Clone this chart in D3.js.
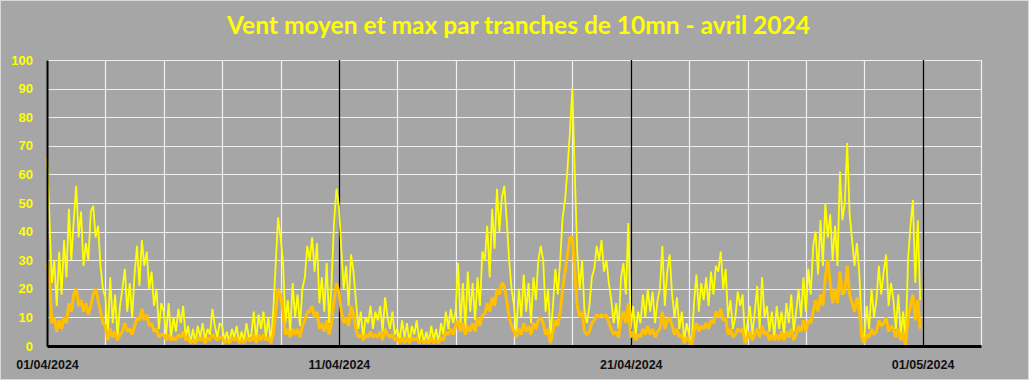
<!DOCTYPE html>
<html>
<head>
<meta charset="utf-8">
<script src="https://cdn.jsdelivr.net/npm/d3@7"></script>
<style>
  html, body { margin: 0; padding: 0; background: #a6a6a6; }
  svg { display: block; }
</style>
</head>
<body>
<svg id="chart"></svg>
<script>
const title = 'Vent moyen et max par tranches de 10mn - avril 2024'

// readings every 2 hours, starting 01/04/2024 00:00
const startDate = new Date(2024, 3, 1)
const endDate = new Date(2024, 4, 3)
const stepHours = 2

const yTicks = [0, 10, 20, 30, 40, 50, 60, 70, 80, 90, 100]
const xTickLabels = ['01/04/2024', '11/04/2024', '21/04/2024', '01/05/2024']

// vent max (rafales)
const maxWind = [
  66, 45, 22, 30, 14, 33, 18, 37, 24, 48, 30, 44, // 01/04
  56, 38, 47, 28, 36, 30, 47, 49, 38, 42, 28, 20,
  17, 4, 24, 8, 18, 3, 14, 20, 27, 12, 22, 10,
  25, 35, 21, 37, 28, 33, 20, 26, 14, 20, 6, 15,
  12, 4, 15, 3, 10, 5, 13, 8, 14, 3, 7, 1,
  6, 1, 7, 3, 8, 2, 6, 4, 13, 7, 3, 8,
  7, 2, 5, 1, 6, 3, 7, 1, 5, 2, 8, 3,
  4, 12, 2, 11, 6, 12, 3, 10, 1, 12, 28, 45,
  38, 30, 8, 16, 5, 22, 10, 18, 7, 20, 24, 35,
  30, 38, 26, 36, 15, 24, 12, 29, 8, 22, 43, 55,
  49, 34, 20, 28, 14, 32, 26, 16, 6, 12, 3, 10, // 11/04
  8, 14, 6, 12, 9, 14, 5, 17, 10, 6, 12, 4,
  6, 2, 9, 3, 8, 1, 7, 4, 9, 2, 6, 1,
  5, 1, 7, 2, 6, 1, 8, 4, 12, 6, 13, 8,
  12, 29, 8, 22, 6, 26, 12, 22, 9, 24, 14, 33,
  30, 42, 24, 48, 34, 55, 40, 52, 56, 44, 30, 20,
  14, 5, 20, 10, 25, 12, 22, 8, 24, 16, 30, 35,
  30, 12, 20, 3, 14, 27, 18, 30, 45, 51, 62, 75,
  90, 60, 33, 20, 30, 12, 8, 14, 24, 27, 35, 30,
  37, 26, 30, 22, 16, 8, 15, 6, 24, 29, 18, 43,
  6, 14, 4, 12, 8, 18, 10, 20, 12, 19, 8, 16, // 21/04
  20, 35, 14, 26, 32, 18, 10, 17, 6, 12, 2, 8,
  4, 0, 15, 25, 12, 22, 16, 24, 14, 26, 18, 28,
  26, 33, 20, 27, 10, 16, 6, 10, 19, 14, 18, 2,
  8, 14, 4, 12, 21, 6, 24, 10, 14, 5, 12, 3,
  14, 6, 12, 4, 15, 8, 18, 5, 12, 20, 10, 24,
  12, 27, 18, 35, 40, 25, 44, 28, 50, 38, 46, 30,
  42, 28, 61, 44, 50, 71, 46, 37, 28, 36, 25, 4,
  3, 14, 6, 20, 10, 16, 28, 18, 26, 32, 14, 22,
  16, 6, 18, 4, 12, 1, 30, 42, 51, 22, 44, 16,
]

// vent moyen
const meanWind = [
  29, 24, 8, 10, 5, 9, 6, 10, 8, 15, 12, 18, // 01/04
  20, 14, 16, 12, 15, 11, 14, 18, 20, 16, 12, 8,
  7, 2, 6, 3, 5, 2, 4, 5, 8, 5, 6, 4,
  7, 10, 9, 13, 9, 11, 7, 8, 5, 6, 3, 4,
  4, 2, 4, 2, 3, 2, 4, 3, 5, 2, 3, 1,
  2, 1, 3, 2, 3, 1, 3, 2, 4, 3, 2, 3,
  3, 1, 2, 1, 3, 2, 3, 1, 2, 1, 3, 2,
  2, 4, 1, 4, 2, 4, 2, 3, 1, 4, 12, 20,
  18, 12, 4, 6, 3, 6, 4, 6, 3, 7, 9, 12,
  12, 14, 10, 12, 6, 8, 5, 9, 4, 8, 16, 22,
  19, 12, 8, 10, 7, 14, 11, 6, 3, 4, 2, 4, // 11/04
  3, 5, 3, 4, 3, 5, 2, 6, 4, 3, 4, 2,
  3, 1, 3, 1, 3, 1, 3, 2, 3, 1, 2, 1,
  2, 1, 3, 1, 2, 1, 3, 2, 5, 4, 6, 4,
  7, 9, 5, 8, 4, 7, 5, 8, 5, 10, 7, 11,
  11, 15, 12, 17, 14, 20, 18, 22, 21, 16, 10, 7,
  5, 3, 6, 4, 8, 5, 7, 4, 8, 6, 9, 10,
  8, 4, 6, 1, 5, 9, 7, 12, 20, 26, 32, 38,
  38, 26, 14, 10, 12, 5, 4, 5, 8, 9, 11, 10,
  11, 10, 11, 8, 6, 4, 5, 3, 9, 12, 8, 15,
  3, 5, 2, 4, 3, 6, 4, 7, 4, 6, 3, 5, // 21/04
  6, 12, 6, 9, 10, 7, 4, 6, 3, 4, 1, 3,
  2, 0, 5, 8, 5, 7, 6, 8, 6, 9, 8, 12,
  10, 13, 9, 10, 4, 6, 3, 4, 6, 5, 6, 1,
  3, 5, 2, 4, 6, 3, 7, 4, 5, 2, 4, 2,
  4, 2, 5, 2, 5, 3, 6, 2, 4, 7, 5, 9,
  5, 9, 8, 12, 16, 12, 18, 14, 24, 30, 22, 15,
  20, 15, 26, 18, 19, 28, 18, 15, 12, 17, 12, 3,
  1, 4, 3, 6, 4, 5, 9, 7, 8, 10, 5, 7,
  6, 3, 6, 2, 5, 0, 10, 14, 18, 9, 16, 6,
]

const width = 1029
const height = 380
const margin = { top: 60, right: 48, bottom: 34, left: 47 }

const svg = d3.select('#chart').attr('width', width).attr('height', height)

// background + frame
svg
  .append('rect')
  .attr('x', 0.5)
  .attr('y', 0.5)
  .attr('width', width - 1)
  .attr('height', height - 1)
  .attr('fill', '#a6a6a6')
  .attr('stroke', '#d9d9d9')

const x = d3
  .scaleTime()
  .domain([startDate, endDate])
  .range([margin.left, width - margin.right])

const y = d3
  .scaleLinear()
  .domain([0, 100])
  .range([height - margin.bottom, margin.top])

const parseDay = d3.timeParse('%d/%m/%Y')
const formatDay = d3.timeFormat('%d/%m/%Y')
const labelDates = xTickLabels.map(parseDay)

// grid
const grid = svg.append('g').attr('id', 'grid')

grid
  .selectAll('line.h')
  .data(yTicks.filter((d) => d > 0))
  .join('line')
  .attr('class', 'h')
  .attr('x1', margin.left)
  .attr('x2', width - margin.right)
  .attr('y1', (d) => Math.round(y(d)) + 0.5)
  .attr('y2', (d) => Math.round(y(d)) + 0.5)
  .attr('stroke', '#f0f0f0')
  .attr('stroke-width', 1.2)

grid
  .selectAll('line.v')
  .data(d3.timeDay.every(2).range(d3.timeDay.offset(startDate, 2), d3.timeDay.offset(endDate, 1)))
  .join('line')
  .attr('class', 'v')
  .attr('x1', (d) => Math.round(x(d)) + 0.5)
  .attr('x2', (d) => Math.round(x(d)) + 0.5)
  .attr('y1', margin.top)
  .attr('y2', height - margin.bottom)
  .attr('stroke', '#f0f0f0')
  .attr('stroke-width', 1.2)

// 10-day separators
grid
  .selectAll('line.sep')
  .data(labelDates.slice(1))
  .join('line')
  .attr('class', 'sep')
  .attr('x1', (d) => Math.round(x(d)) + 0.5)
  .attr('x2', (d) => Math.round(x(d)) + 0.5)
  .attr('y1', margin.top)
  .attr('y2', height - margin.bottom)
  .attr('stroke', '#000')
  .attr('stroke-width', 1.3)

// series
const timeOf = (i) => d3.timeHour.offset(startDate, i * stepHours)
const line = d3
  .line()
  .x((d, i) => x(timeOf(i)))
  .y((d) => y(d))

svg
  .append('path')
  .datum(maxWind)
  .attr('fill', 'none')
  .attr('stroke', '#ffff00')
  .attr('stroke-width', 1.8)
  .attr('stroke-linejoin', 'bevel')
  .attr('d', line)

svg
  .append('path')
  .datum(meanWind)
  .attr('fill', 'none')
  .attr('stroke', '#ffc000')
  .attr('stroke-width', 3)
  .attr('stroke-linejoin', 'bevel')
  .attr('d', line)

// axes
const yAxis = svg
  .append('g')
  .attr('transform', `translate(${margin.left},0)`)
  .call(d3.axisLeft(y).tickValues(yTicks).tickSize(0).tickPadding(14))

yAxis.select('.domain').attr('stroke', '#000').attr('stroke-width', 2)
yAxis
  .selectAll('text')
  .attr('fill', '#ffff00')
  .style('font-family', '"Liberation Sans", Arial, sans-serif')
  .style('font-weight', 'bold')
  .style('font-size', '13px')

const xAxis = svg
  .append('g')
  .attr('transform', `translate(0,${height - margin.bottom})`)
  .call(
    d3
      .axisBottom(x)
      .tickValues(labelDates)
      .tickFormat(formatDay)
      .tickSize(0)
      .tickPadding(14)
  )

xAxis.select('.domain').attr('stroke', '#000').attr('stroke-width', 3)
xAxis
  .selectAll('text')
  .attr('fill', '#111')
  .style('font-family', '"Liberation Sans", Arial, sans-serif')
  .style('font-weight', 'bold')
  .style('font-size', '12.5px')

// title
svg
  .append('text')
  .attr('x', 518.5)
  .attr('y', 34)
  .attr('text-anchor', 'middle')
  .attr('fill', '#ffff00')
  .style('font-family', 'Lato, "Open Sans", sans-serif')
  .style('font-weight', 'bold')
  .style('font-size', '24.5px')
  .text(title)
</script>
</body>
</html>
